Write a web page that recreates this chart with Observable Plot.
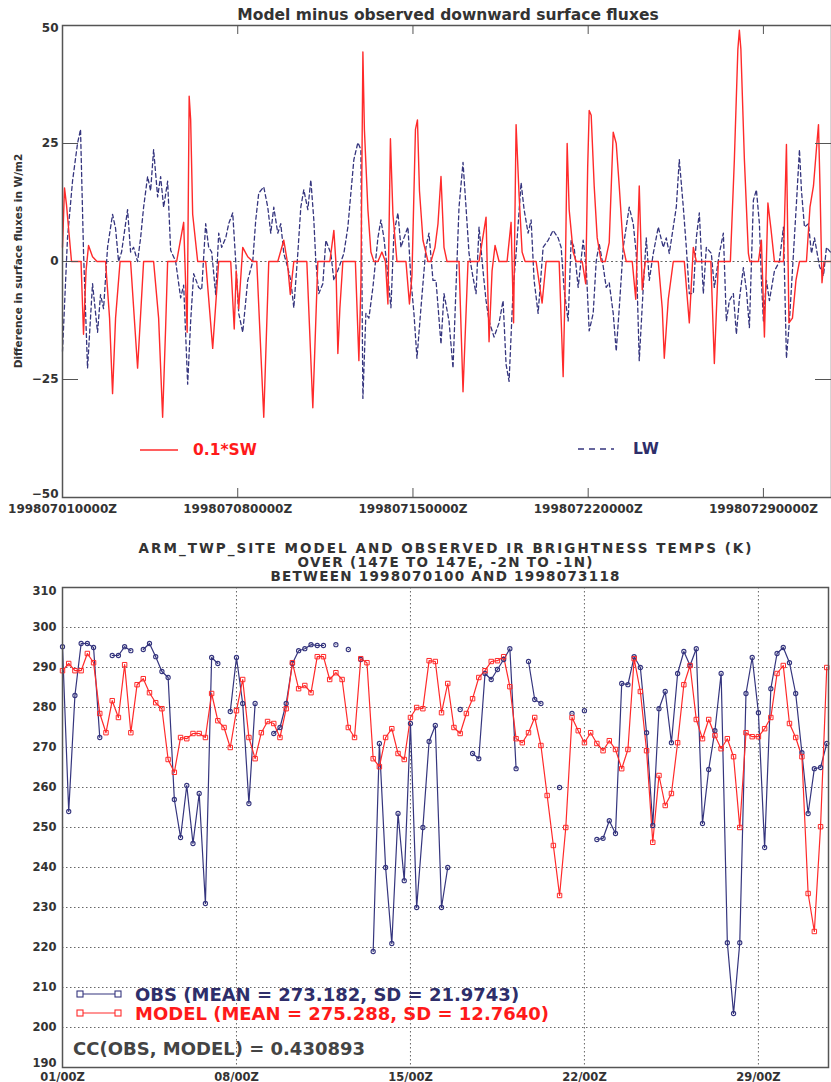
<!DOCTYPE html>
<html><head><meta charset="utf-8">
<script src="https://cdn.jsdelivr.net/npm/d3@7"></script>
<script src="https://cdn.jsdelivr.net/npm/@observablehq/plot@0.6"></script>
<style>
html,body{margin:0;padding:0;background:#fff;overflow:hidden;}
#page{width:831px;height:1082px;position:relative;background:#fff;}
#page svg{display:block;}
</style></head><body><div id="page"></div>
<script>
// ---------- TOP PANEL DATA (days since 1998-07-01 00Z, W/m2) ----------
const swDay = [0,0.08,0.16,0.36, 0.74,0.84,0.94,1.04,1.2,1.38, 1.72,1.88,2.0,2.12,2.3, 2.72,3.0,3.24,
 3.64,3.84,4.0,4.12,4.2, 4.56,4.84,4.98,5.06,5.12,5.2,5.4, 5.72,6.0,6.24, 6.72,6.86,6.94,7.04,7.2,7.4,7.6,
 7.76,8.04,8.24, 8.6,8.84,8.98,9.1,9.24, 9.76,10.0,10.2, 10.68,10.84,10.92,11.0,11.08,11.2,
 11.7,11.84,11.92,12.0,12.06,12.2,12.32,12.44, 12.6,12.76,12.9,13.0,13.1,13.2,13.36,
 13.72,13.86,13.96,14.1,14.18,14.26,14.4,14.6, 14.72,14.88,15.0,15.12,15.24,15.36, 15.84,16.0,16.2,
 16.64,16.92,17.04,17.16,17.28,17.44, 17.76,17.92,18.02,18.12,18.24,18.36,18.48, 18.92,19.16,19.32,
 19.84,20.0,20.08,20.16,20.24,20.4,20.52, 20.76,20.9,20.98,21.04,21.12,21.24,21.36,21.52,
 21.68,21.84,22.0,22.12,22.24,22.4,22.52, 22.76,22.9,23.04,23.16,23.28, 23.8,23.96,24.04,24.2,24.4,
 24.84,25.04,25.2,25.32, 25.9,26.04,26.2, 26.68,26.84,26.98,27.04,27.1,27.24,27.4,27.46,
 27.8,27.92,28.04,28.18,28.3,28.44, 28.8,28.92,29.02,29.16,29.3,29.44,
 29.72,29.86,30.0,30.12,30.2,30.26,30.34,30.42,30.72];
const swVal = [3,15.6,12,0, 0,-15.4,-2,3.4,1,0, 0,-12,-28,-12,0, 0,-22.6,0,
 0,-12,-33,-14,0, 0,8.3,-15,35,30,10,0, 0,-18.4,0, 0,-14.3,-2,-10,3,1,0,
 0,-33,0, 0,4.5,0,-7,0, 0,-31,0, 0,6.6,0,-19.5,-10,0,
 0,-21,-5,44.4,28,11,2,0, 0,2,0,-9,26,10,0,
 0,-9,-3,28,30,15,4.5,0, 0,3,8,18,3,0, 0,-27.6,0,
 0,9.4,-17,-2,3.4,0, 0,8.3,-13,29,14,2,0, 0,-8.8,0,
 0,-24.4,-5,25,11,2,0, 0,-4.7,20,32,31,16,5,0,
 0,4,27.4,25,16,3,0, 0,-8,16,-6,0, 0,-10,-20.5,-8,0,
 0,-13,3,0, 0,-21.6,0, 0,21.6,45,49,45,21.6,1.7,0,
 0,4.5,-16,12.4,7,0, 0,24.8,-13,-12,-4,0,
 0,11.5,16,24,29,16,-4.5,0,0];

const lwDay = [0,0.2,0.4,0.6,0.72,0.84,1.0,1.2,1.4,1.52,1.64,1.8,2.0,2.12,2.24,2.36,2.6,2.72,2.84,3.0,
 3.12,3.24,3.4,3.52,3.64,3.8,3.92,4.04,4.2,4.32,4.52,4.72,4.84,5.0,5.12,5.24,5.44,5.56,5.72,5.84,5.96,
 6.12,6.24,6.36,6.52,6.64,6.8,6.92,7.04,7.2,7.4,7.6,7.72,7.84,8.04,8.2,8.32,8.44,8.6,8.72,8.84,
 9.0,9.12,9.24,9.4,9.52,9.64,9.8,9.92,10.04,10.12,10.24,10.4,10.52,10.72,10.84,11.04,11.24,11.4,11.52,
 11.64,11.8,11.92,12.0,12.12,12.24,12.4,12.6,12.72,12.84,13.0,13.12,13.24,13.4,13.52,13.64,13.8,13.92,
 14.04,14.16,14.32,14.52,14.64,14.8,14.92,15.12,15.24,15.44,15.6,15.72,15.84,16.0,16.12,16.24,16.4,
 16.52,16.64,16.8,16.92,17.04,17.24,17.44,17.6,17.72,17.84,18.0,18.12,18.32,18.44,18.6,18.72,18.84,
 19.0,19.2,19.4,19.6,19.8,19.92,20.04,20.2,20.32,20.44,20.6,20.8,20.92,21.04,21.2,21.32,21.44,21.6,
 21.72,21.84,22.0,22.12,22.24,22.4,22.52,22.64,22.8,22.92,23.04,23.2,23.32,23.44,23.6,23.8,24.0,
 24.12,24.24,24.4,24.52,24.64,24.8,24.92,25.04,25.2,25.32,25.44,25.6,25.72,25.92,26.04,26.24,26.4,
 26.52,26.64,26.8,26.92,27.04,27.2,27.32,27.44,27.6,27.72,27.84,27.92,28.0,28.12,28.24,28.44,28.64,
 28.8,28.92,29.04,29.2,29.32,29.44,29.52,29.64,29.8,29.92,30.04,30.24,30.4,30.52,30.72];
const lwVal = [-19,5,17,25,28,2,-22.6,-4.7,-15,-7,-10,3,10,7,0,2,11,2,3,0,
 5,11.5,18,15,23.7,13.7,18,11.5,17,2.4,0,-7.7,-5,-26,-12.6,-2.6,-5.5,-6,8,3,2,
 -7,6,3,5,8,10.3,0,-11,-15,-4,0,8.8,14.5,15.8,11.5,6,11.5,6,8,1.7,
 -1.3,-4,-9.8,1.7,11.5,15.2,11,17.3,8.8,0,-6.8,-4.7,4.5,1.7,-4,-1.3,1.7,7.3,14.5,
 21.6,25.2,23.7,-29,-11,-12,-5.5,5,8.8,5,-3,-9.8,6,10.3,3,5,7.3,-4,
 -11,-20.5,-9.8,3,6,-4,-4,-17.5,-6.8,-12.6,-22.6,-5.5,11.5,21,11.5,1.7,-3.4,
 -6.8,7.3,-2,-8.3,-12.6,-16,-13,-8.3,-21.8,-25.4,-6,1.7,16.7,11,6,8.8,-4,
 -11,3,4.5,6.6,5,3,-6,-12.6,4.5,3,-5.5,4.5,-1,-14.7,-11,0,3.8,-1,
 -5.5,-4.5,-11,-19,-10,3,7.3,11.5,8,1.7,-21,-5.5,5,-4,1.7,7.3,3,
 5,1.7,7.3,11.5,21.6,11.5,3,-6.8,-6.8,5,10.3,-6.8,3,1.7,-5.5,1.7,6,
 -12.6,-8.3,-6.8,-15.4,-8,-1.3,-6,-14,13,15.2,8,-4,-12.6,-4,-8.3,-2,0,
 7.3,-20.5,-12.6,1.7,12.4,23.7,15,7.3,8,1.7,5,-1,-3,3,1.7];

const topTickDays = [0, 7, 14, 21, 28];
const topTickLabels = ["199807010000Z", "199807080000Z", "199807150000Z", "199807220000Z", "199807290000Z"];
const topYTicks = [-50, -25, 0, 25, 50];

// ---------- BOTTOM PANEL DATA (6-hourly, K; null = missing) ----------
const obsK = [295.2,254,283,296,296,295,272.5,null,293,293,295.2,294.2,null,294.5,296,292.7,289,287.5,257,247.5,
 260.5,246,258.5,231,292.5,291,null,279,292.5,281,256,281,null,null,273.5,275,281,291,294.2,294.7,
 295.7,295.5,295.5,null,295.7,null,294.5,null,292,null,219,271,240,221,253.5,236.7,276,230,250,271.5,
 275.5,230,240,null,279.5,null,268.5,267.2,288.5,287,289.5,292,294.7,264.7,null,291.5,282,281,null,null,
 260,null,278.5,null,279.2,null,247,247.3,251.7,248.5,286,285.7,292.7,290,273.7,250.5,279.7,284,271.2,288.5,
 294,290.5,294.7,251,264.5,274.2,288.5,221.2,203.5,221.2,283.5,292.5,278.7,245,284.7,293.5,295,291.2,283.5,268.7,
 253.5,264.7,265,271];
const modelK = [289.2,291,289.2,289.2,293.5,291.2,278.5,273.7,281.7,277.5,290.7,273.7,285.7,287.2,283.7,281.2,279.7,267,263.8,272.5,
 272.2,273.5,273.5,272.5,283.5,276.7,275,270,279.2,287,272.5,267.2,273.7,276.5,276,272.5,279.7,291.2,284.7,285.5,
 283.7,292.7,292.7,287,288.7,287,275,272.5,292.2,291.2,267.2,265.2,272.5,274.7,268.5,267,277.5,280,279.7,291.7,
 291.5,278.7,286,275,273.5,278.5,282.2,287.5,289.2,291.5,291.7,292.7,285.2,272.2,271.2,273.7,277.5,270.5,258,245.5,
 233,250,277.5,274.2,271.2,273.7,271,269.2,271.7,269.5,264.7,269.5,292.2,284,269.2,246.3,263,255.5,258.5,271.2,
 285.7,290.5,277,272.2,277,273,269.7,272.2,267.7,250,273.7,272.7,272.7,274.7,277.5,288.5,290.5,276,272.5,267.7,
 233.5,224,250.2,290];
const sampleStepDays = 0.25;
const botTickDays = [0, 7, 14, 21, 28];
const botTickLabels = ["01/00Z", "08/00Z", "15/00Z", "22/00Z", "29/00Z"];
const botYTicks = [200,210,220,230,240,250,260,270,280,290,300];
const botYMin = 190, botYMax = 310;

// ---------- STYLE ----------
const FONT = "DejaVu Sans";
const RED = "#ff2a2a";
const NAVY = "#35357e";
const GREY = "#555";

const swData = swDay.map((d, i) => ({day: d, v: swVal[i]}));
const lwData = lwDay.map((d, i) => ({day: d, v: lwVal[i]}));
const obsData = obsK.map((v, i) => ({day: i * sampleStepDays, v}));
const modelData = modelK.map((v, i) => ({day: i * sampleStepDays, v}));

const page = document.getElementById("page");

function txt(s, x, y, size, fill, content, anchor) {
  return s.append("text").attr("x", x).attr("y", y).attr("text-anchor", anchor || "start")
    .attr("font-family", FONT).attr("font-weight", "bold").attr("font-size", size)
    .attr("fill", fill).text(content);
}

// ---------- TOP PLOT ----------
const H1 = 530, MT1 = 25, MB1 = 33, ML1 = 62, MR1 = 0;
const fh1 = H1 - MT1 - MB1, fw1 = 831 - ML1 - MR1;
const p1 = Plot.plot({
  width: 831, height: H1,
  marginTop: MT1, marginBottom: MB1, marginLeft: ML1, marginRight: MR1,
  x: {domain: [0, 30.72]},
  y: {domain: [-50, 50]},
  style: {fontFamily: FONT, fontWeight: "bold", fontSize: "12px", color: "#333", background: "#fff", overflow: "visible"},
  marks: [
    Plot.ruleY([0], {stroke: "#666", strokeDasharray: "2,2.5", strokeWidth: 1}),
    Plot.line(lwData, {x: "day", y: "v", stroke: NAVY, strokeWidth: 1.3, strokeDasharray: "4,3"}),
    Plot.line(swData, {x: "day", y: "v", stroke: RED, strokeWidth: 1.4}),
    Plot.frame({stroke: GREY, strokeWidth: 1.5}),
    Plot.ruleX(topTickDays, {x: d => d, insetBottom: fh1 - 9, stroke: GREY}),
    Plot.ruleX(topTickDays, {x: d => d, insetTop: fh1 - 9, stroke: GREY}),
    Plot.ruleY(topYTicks, {y: d => d, insetRight: fw1 - 16, stroke: GREY}),
    Plot.ruleY(topYTicks, {y: d => d, insetLeft: fw1 - 16, stroke: GREY}),
    Plot.axisX(topTickDays, {tickSize: 0, tickPadding: 7, label: null,
      tickFormat: d => topTickLabels[topTickDays.indexOf(d)]}),
    Plot.axisY(topYTicks.slice(1, 4), {tickSize: 0, tickPadding: 4, label: null}),
    Plot.axisY([topYTicks[0]], {tickSize: 0, tickPadding: 4, label: null, dy: -3}),
    Plot.axisY([topYTicks[4]], {tickSize: 0, tickPadding: 4, label: null, dy: 3})
  ]
});
page.appendChild(p1);
{
  const s = d3.select(p1);
  txt(s, 448, 20, 15.5, "#333", "Model minus observed downward surface fluxes", "middle");
  s.append("text").attr("transform", "translate(22,261) rotate(-90)").attr("text-anchor", "middle")
    .attr("font-family", FONT).attr("font-weight", "bold").attr("font-size", 10.5).attr("fill", "#333")
    .text("Difference in surface fluxes in W/m2");
  s.append("line").attr("x1", 140).attr("x2", 178).attr("y1", 450).attr("y2", 450)
    .attr("stroke", RED).attr("stroke-width", 1.4);
  txt(s, 193, 454.5, 15.5, "#ff1a1a", "0.1*SW");
  s.append("line").attr("x1", 578).attr("x2", 614).attr("y1", 449).attr("y2", 449)
    .attr("stroke", NAVY).attr("stroke-width", 1.3).attr("stroke-dasharray", "6,5");
  txt(s, 633, 453.5, 15.5, "#2e2e6a", "LW");
}

// ---------- BOTTOM PLOT ----------
const H2 = 552, MT2 = 57, MB2 = 15, ML2 = 62, MR2 = 3;
const p2 = Plot.plot({
  width: 831, height: H2,
  marginTop: MT2, marginBottom: MB2, marginLeft: ML2, marginRight: MR2,
  x: {domain: [0, 30.82]},
  y: {domain: [botYMin, botYMax]},
  style: {fontFamily: FONT, fontWeight: "bold", fontSize: "11.5px", color: "#333", background: "#fff", overflow: "visible"},
  marks: [
    Plot.ruleY(botYTicks, {y: d => d, stroke: "#666", strokeDasharray: "1.5,2.5", strokeWidth: 1}),
    Plot.ruleX(botTickDays.slice(1), {x: d => d, stroke: "#666", strokeDasharray: "1.5,2.5", strokeWidth: 1}),
    Plot.line(obsData, {x: "day", y: "v", stroke: NAVY, strokeWidth: 1.2}),
    Plot.line(modelData, {x: "day", y: "v", stroke: RED, strokeWidth: 1.2}),
    Plot.dot(obsData, {x: "day", y: "v", r: 2.1, stroke: NAVY, strokeWidth: 1.1, fill: "none"}),
    Plot.dot(modelData, {x: "day", y: "v", r: 2.5, symbol: "square", stroke: RED, strokeWidth: 1, fill: "none"}),
    Plot.frame({stroke: GREY, strokeWidth: 1.5}),
    Plot.axisX(botTickDays, {tickSize: 0, tickPadding: 5, label: null,
      tickFormat: d => botTickLabels[botTickDays.indexOf(d)]}),
    Plot.axisY(botYTicks, {tickSize: 0, tickPadding: 6, label: null}),
    Plot.axisY([botYMin], {tickSize: 0, tickPadding: 6, label: null, dy: -4}),
    Plot.axisY([botYMax], {tickSize: 0, tickPadding: 6, label: null, dy: 4})
  ]
});
page.appendChild(p2);
{
  const s = d3.select(p2);
  const titleLines = ["ARM_TWP_SITE MODEL AND OBSERVED IR BRIGHTNESS TEMPS (K)",
    "OVER (147E TO 147E, -2N TO -1N)", "BETWEEN 1998070100 AND 1998073118"];
  const titleWidths = [613, 295, 349];
  titleLines.forEach((t, i) => txt(s, 445, 23 + i * 14, 13.5, "#333", t, "middle")
    .attr("textLength", titleWidths[i]).attr("lengthAdjust", "spacing"));
  const leg = [
    {y: 464, color: NAVY, text: "OBS (MEAN = 273.182, SD = 21.9743)", tcolor: "#2e2e6a"},
    {y: 483, color: RED, text: "MODEL (MEAN = 275.288, SD = 12.7640)", tcolor: "#ff1a1a"}
  ];
  leg.forEach(l => {
    s.append("line").attr("x1", 80).attr("x2", 118).attr("y1", l.y).attr("y2", l.y)
      .attr("stroke", l.color).attr("stroke-width", 1.2);
    [80, 118].forEach(x => s.append("rect").attr("x", x - 3).attr("y", l.y - 3).attr("width", 6).attr("height", 6)
      .attr("fill", "#fff").attr("stroke", l.color).attr("stroke-width", 1.1));
    txt(s, 135, l.y + 7, 18, l.tcolor, l.text);
  });
  txt(s, 73, 525, 18, "#444", "CC(OBS, MODEL) = 0.430893");
}
</script></body></html>
